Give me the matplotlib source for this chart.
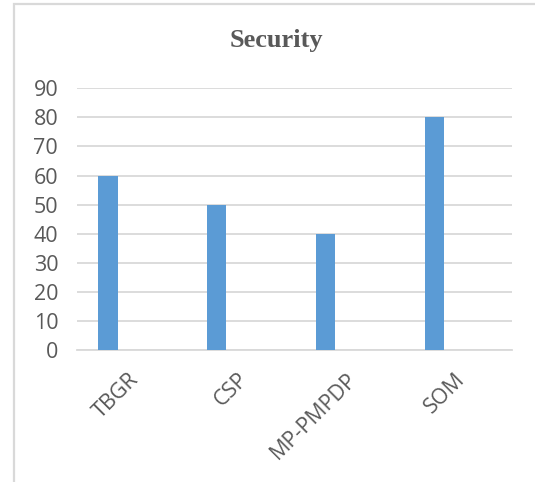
import matplotlib
matplotlib.use("Agg")
import matplotlib.pyplot as plt
from matplotlib.patches import Rectangle
import numpy as np

# Chart data
categories = ["TBGR", "CSP", "MP-PMPDP", "SOM"]
security = [60, 50, 40, 80]
y_ticks = [0, 10, 20, 30, 40, 50, 60, 70, 80, 90]

# Style
BAR_COLOR = "#5b9bd5"
GRID_COLOR = "#d9d9d9"
TEXT_COLOR = "#595959"
BAR_WIDTH = 0.175
BAR_OFFSET = -0.215

W, H = 535, 482
fig = plt.figure(figsize=(W / 100, H / 100), dpi=100)
fig.patch.set_facecolor("white")

# Chart-area border (runs off the right and bottom edges)
fig.patches.append(Rectangle((14 / W, -0.05), 1.2, (H - 4) / H + 0.05,
                             transform=fig.transFigure, fill=False,
                             edgecolor=GRID_COLOR, linewidth=1.6))

left, right = 77 / W, 512 / W
top, bottom = (H - 88.3) / H, (H - 350) / H
ax = fig.add_axes([left, bottom, right - left, top - bottom])
ax.set_facecolor("white")

x = np.arange(len(categories))
ax.bar(x + BAR_OFFSET, security, width=BAR_WIDTH, color=BAR_COLOR, zorder=3)

ax.set_xlim(-0.5, len(categories) - 0.5)
ax.set_ylim(0, 90)
ax.set_yticks(y_ticks)
ax.set_yticklabels([str(v) for v in y_ticks], fontfamily="Open Sans",
                   fontsize=15.5, color=TEXT_COLOR)
ax.set_xticks(x)
ax.set_xticklabels([])

# slanted category labels
for xi, cat in zip(x, categories):
    ax.annotate(cat, xy=(xi, 0), xycoords=("data", "axes fraction"),
                xytext=(-3, -19), textcoords="offset pixels",
                rotation=45, ha="right", va="top", rotation_mode="anchor",
                fontfamily="Open Sans", fontsize=15.5, color=TEXT_COLOR,
                annotation_clip=False)

ax.grid(axis="y", color=GRID_COLOR, linewidth=1.3, zorder=0)
ax.set_axisbelow(True)
for side in ["top", "right", "left"]:
    ax.spines[side].set_visible(False)
ax.spines["bottom"].set_color(GRID_COLOR)
ax.spines["bottom"].set_linewidth(1.3)
ax.tick_params(axis="both", length=0)
ax.tick_params(axis="y", pad=13.5)

fig.text((230.7 + 323) / 2 / W, (H - 40) / H, "Security",
         fontfamily="Liberation Serif", fontweight="bold", fontsize=19,
         color=TEXT_COLOR, ha="center", va="center")

fig.savefig("out.png", dpi=100)
